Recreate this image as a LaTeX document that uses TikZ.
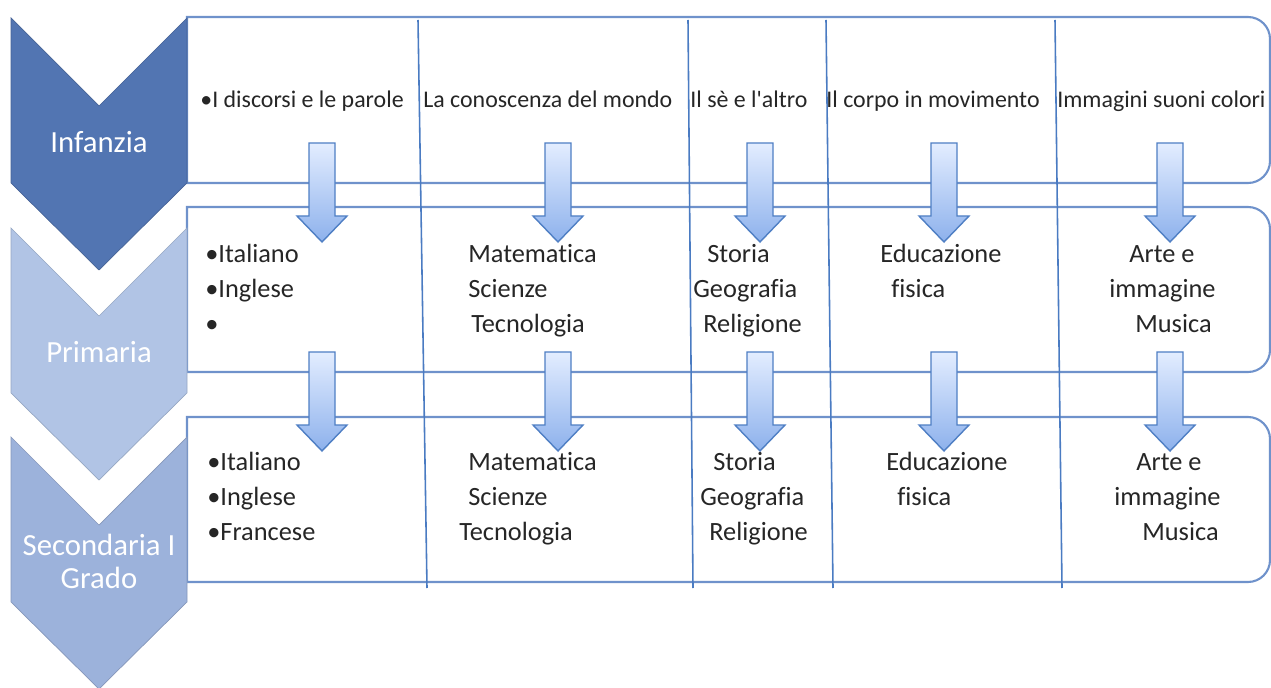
\documentclass[tikz,border=0pt]{standalone}
\usepackage{fontspec}
\setmainfont{Carlito}[Ligatures=NoCommon]
\definecolor{infblue}{HTML}{5275B2}
\definecolor{priblue}{HTML}{B1C4E5}
\definecolor{secblue}{HTML}{9CB2DB}
\definecolor{rimblue}{HTML}{6F92CB}
\definecolor{lineblue}{HTML}{4A7BC2}
\definecolor{arrowtop}{HTML}{E3EDFF}
\definecolor{arrowbot}{HTML}{8DB1EC}
\definecolor{arrowrim}{HTML}{4F7FC4}
\definecolor{inkgray}{HTML}{262626}

\begin{document}
\begin{tikzpicture}[x=0.02cm, y=0.02cm]
\tikzset{
    rowbox/.style={draw=rimblue, line width=1.2pt, fill=white},
    stageshape/.style={fill=#1, draw=#1!85!black, line width=0.4pt},
    stagelabel/.style={text=white, font=\fontsize{17.5}{20}\selectfont, anchor=base, inner sep=0pt},
    field/.style={text=inkgray, font=\fontsize{13.6}{16}\selectfont, anchor=base west, inner sep=0pt},
    subj/.style={text=inkgray, font=\fontsize{15}{18}\selectfont, anchor=base west, inner sep=0pt},
    flowarrow/.style={draw=arrowrim, line width=0.8pt, top color=arrowtop, bottom color=arrowbot},
    colline/.style={draw=lineblue, line width=0.9pt}
}
\useasboundingbox (0,0) rectangle (1271,687);
% rows
\foreach \t/\b in {670/504, 480/315, 270/105}
    \draw[rowbox] (187,\t) -- (1248,\t) arc[start angle=90, end angle=0, radius=22] -- (1270,\b+22) arc[start angle=0, end angle=-90, radius=22] -- (187,\b) -- cycle;
% chevrons
\foreach \t/\c in {669/infblue, 459/priblue, 250/secblue}
    \draw[stageshape=\c] (11,\t) -- (99,\t-88) -- (187,\t) -- (187,\t-165) -- (99,\t-252) -- (11,\t-165) -- cycle;
\node[stagelabel] (inf) at (99,534) {Infanzia};
\node[stagelabel] (pri) at (99,324) {Primaria};
\node[stagelabel] (sec) at (99,132) {Secondaria I};
\node[stagelabel] (grado) at (99,99) {Grado};
% column separators
\draw[colline] (418,667) -- (427,99);
\draw[colline] (688,667) -- (693,99);
\draw[colline] (826,667) -- (833,99);
\draw[colline] (1055,667) -- (1062,99);
% block arrows
\foreach \x in {322,558,760,944,1170}
    \foreach \t in {544,335}
        \draw[flowarrow] (\x-13,\t) -- (\x+13,\t) -- (\x+13,\t-73) -- (\x+25,\t-73) -- (\x,\t-99) -- (\x-25,\t-73) -- (\x-13,\t-73) -- cycle;
% infanzia
\node[field] (infA) at (200,579) {•I discorsi e le parole};
\node[field] (infB) at (423,579) {La conoscenza del mondo};
\node[field] (infC) at (690,579) {Il sè e l\textquotesingle altro};
\node[field] (infD) at (826,579) {Il corpo in movimento};
\node[field] (infE) at (1057,579) {Immagini suoni colori};
% primaria
\node[subj] (priA1) at (205,424) {•Italiano};
\node[subj] (priA2) at (205,389) {•Inglese};
\node[subj] (priA3) at (205,355) {•};
\node[subj] (priB1) at (468,424) {Matematica};
\node[subj] (priB2) at (468,389) {Scienze};
\node[subj] (priB3) at (471,355) {Tecnologia};
\node[subj] (priC1) at (707,424) {Storia};
\node[subj] (priC2) at (693,389) {Geografia};
\node[subj] (priC3) at (703,355) {Religione};
\node[subj] (priD1) at (880,424) {Educazione};
\node[subj] (priD2) at (891,389) {fisica};
\node[subj] (priE1) at (1129,424) {Arte e};
\node[subj] (priE2) at (1109,389) {immagine};
\node[subj] (priE3) at (1135,355) {Musica};
% secondaria
\node[subj] (secA1) at (207,217) {•Italiano};
\node[subj] (secA2) at (207,182) {•Inglese};
\node[subj] (secA3) at (207,147) {•Francese};
\node[subj] (secB1) at (468,217) {Matematica};
\node[subj] (secB2) at (468,182) {Scienze};
\node[subj] (secB3) at (459,147) {Tecnologia};
\node[subj] (secC1) at (713,217) {Storia};
\node[subj] (secC2) at (700,182) {Geografia};
\node[subj] (secC3) at (709,147) {Religione};
\node[subj] (secD1) at (886,217) {Educazione};
\node[subj] (secD2) at (897,182) {fisica};
\node[subj] (secE1) at (1136,217) {Arte e};
\node[subj] (secE2) at (1114,182) {immagine};
\node[subj] (secE3) at (1142,147) {Musica};
\end{tikzpicture}
\end{document}
